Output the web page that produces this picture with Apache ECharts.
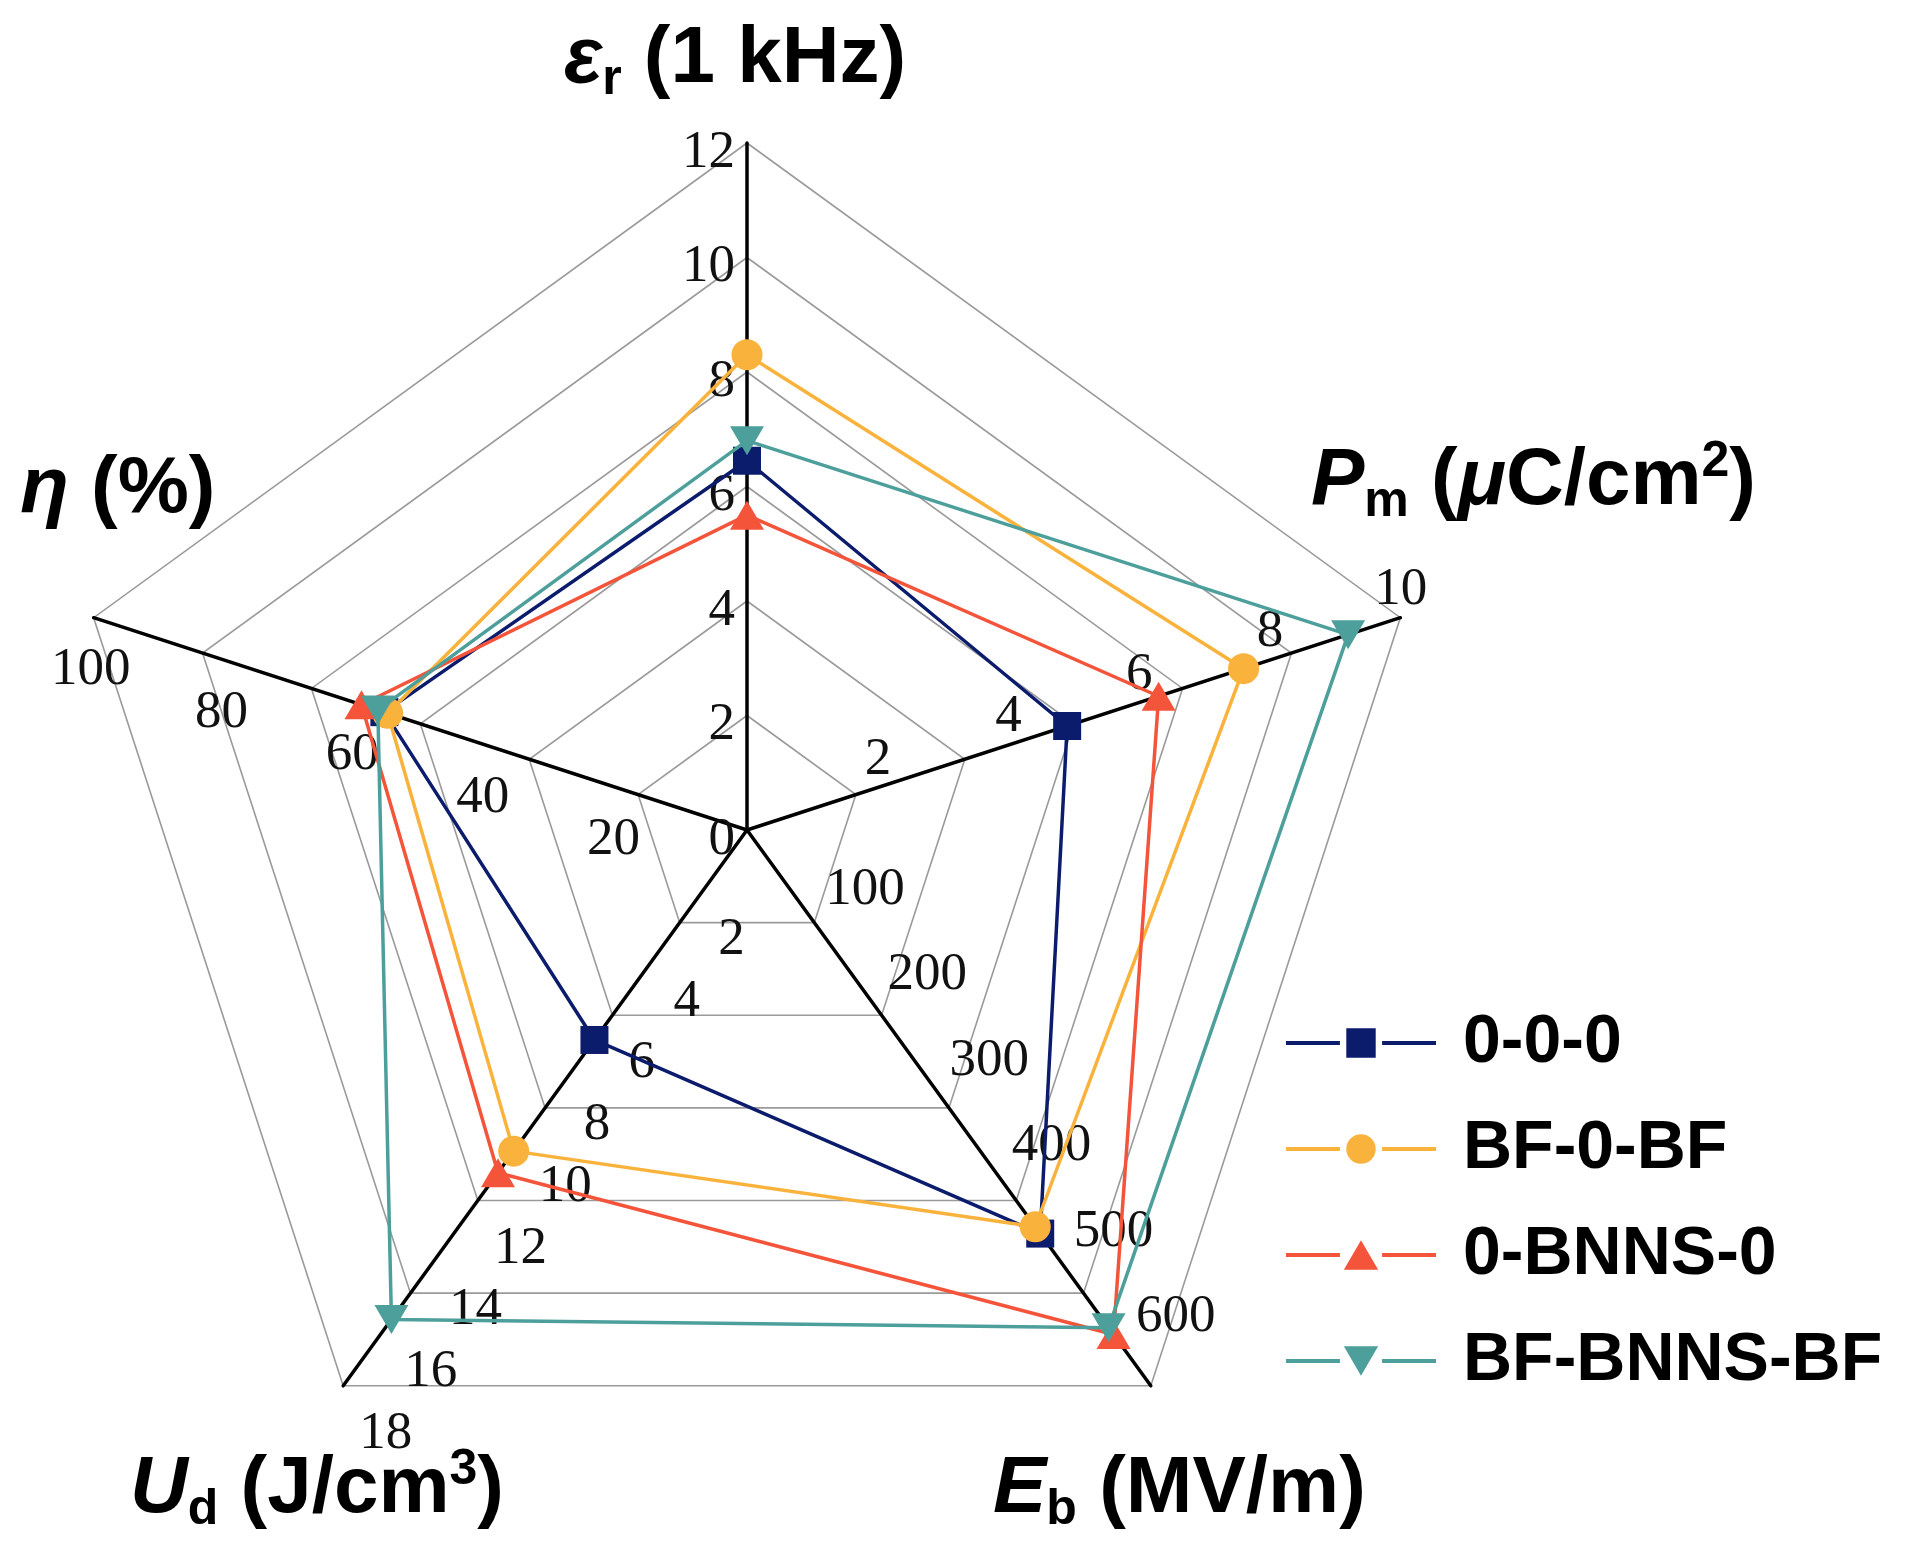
<!DOCTYPE html>
<html>
<head>
<meta charset="utf-8">
<script src="https://cdn.jsdelivr.net/npm/echarts@6/dist/echarts.min.js"></script>
<style>
  html, body { margin: 0; padding: 0; background: #fff; }
  #main { width: 1907px; height: 1555px; }
</style>
</head>
<body>
<div id="main"></div>
<script>
// axes go counter-clockwise from the top: er, eta, Ud, Eb, Pm
var axisKeys = ['er', 'eta', 'Ud', 'Eb', 'Pm'];
var axisMax = [12, 100, 18, 650, 10];

// tick labels drawn on each axis
var erTicks = [0, 2, 4, 6, 8, 10, 12];
var etaTicks = [20, 40, 60, 80, 100];
var udTicks = [2, 4, 6, 8, 10, 12, 14, 16, 18];
var ebTicks = [100, 200, 300, 400, 500, 600];
var pmTicks = [2, 4, 6, 8, 10];

// series values, in axis order
var seriesNames = ['0-0-0', 'BF-0-BF', '0-BNNS-0', 'BF-BNNS-BF'];
var s000 = [6.45, 55.5, 6.8, 472, 4.9];
var sBF0BF = [8.3, 55, 10.4, 464, 7.6];
var s0BNNS0 = [5.5, 59, 11.1, 590, 6.3];
var sBFBNNSBF = [6.8, 56.5, 15.85, 582, 9.2];
var seriesValues = [s000, sBF0BF, s0BNNS0, sBFBNNSBF];

var colors = ['#0c1c6d', '#f9b23b', '#f4543a', '#4d9f9c'];
var symbols = ['rect', 'circle', 'triangle', 'path://M0,0 L10,0 L5,10 Z'];
var symbolSizes = [28, 31, [34, 29], [34, 29]];
var legendIcons = [
    'path://M0,13 H55 V17 H0 Z M98,13 H153 V17 H98 Z M61.5,0 H91.5 V30 H61.5 Z',
    'path://M0,13 H55 V17 H0 Z M98,13 H153 V17 H98 Z M61.5,15 A15,15 0 1 0 91.5,15 A15,15 0 1 0 61.5,15 Z',
    'path://M0,13 H55 V17 H0 Z M98,13 H153 V17 H98 Z M59,30 L76.5,0 L94,30 Z',
    'path://M0,13 H55 V17 H0 Z M98,13 H153 V17 H98 Z M59,0 L94,0 L76.5,30 Z'
];

var CENTER = [747, 830];
var R = 687;

var labelFont = {
    show: true,
    color: '#111',
    fontFamily: 'Liberation Serif',
    fontSize: 53
};

// a radar that only carries the tick labels of one axis
function labelRadar(axisIdx, ticks, radius, extra) {
    return {
        center: CENTER,
        radius: radius,
        startAngle: 90,
        shape: 'polygon',
        splitNumber: ticks.length,
        axisName: { show: false },
        axisLine: { show: false },
        splitLine: { show: false },
        splitArea: { show: false },
        axisTick: { show: false },
        axisLabel: { show: false },
        indicator: axisKeys.map(function (k, i) {
            return {
                name: k,
                min: 0,
                max: i === axisIdx ? ticks[ticks.length - 1] : 1,
                axisLabel: i === axisIdx
                    ? Object.assign({}, labelFont, { showMinLabel: false }, extra)
                    : { show: false }
            };
        })
    };
}

var mainRadar = {
    center: CENTER,
    radius: R,
    startAngle: 90,
    shape: 'polygon',
    splitNumber: erTicks.length - 1,
    axisName: { show: false },
    axisLine: { lineStyle: { color: '#000', width: 3.5 } },
    splitLine: { lineStyle: { color: '#9a9a9a', width: 1.6 } },
    splitArea: { show: false },
    axisTick: { show: false },
    axisLabel: { show: false },
    indicator: axisKeys.map(function (k, i) {
        var ind = { name: k, min: 0, max: axisMax[i] };
        if (i === 0) {
            ind.axisLabel = Object.assign({}, labelFont, { margin: 12, verticalAlign: 'top', lineHeight: 20 });
        }
        return ind;
    })
};

var nameRich = {
    i: { fontFamily: 'Liberation Sans', fontWeight: 'bold', fontStyle: 'italic', fontSize: 80, lineHeight: 90, fill: '#000' },
    b: { fontFamily: 'Liberation Sans', fontWeight: 'bold', fontSize: 80, lineHeight: 90, fill: '#000' },
    bi: { fontFamily: 'Liberation Sans', fontWeight: 'bold', fontStyle: 'italic', fontSize: 80, lineHeight: 90, fill: '#000' },
    sub: { fontFamily: 'Liberation Sans', fontWeight: 'bold', fontSize: 50, lineHeight: 40, verticalAlign: 'bottom', fill: '#000' },
    sup: { fontFamily: 'Liberation Sans', fontWeight: 'bold', fontSize: 50, lineHeight: 60, verticalAlign: 'top', fill: '#000' }
};

function axisTitle(text, x, y, align) {
    return {
        type: 'text',
        x: x,
        y: y,
        z: 10,
        style: {
            text: text,
            rich: nameRich,
            align: align,
            verticalAlign: 'middle'
        }
    };
}

var chartDom = document.getElementById('main');
var myChart = echarts.init(chartDom);
var option;

option = {
    animation: false,
    backgroundColor: '#fff',
    radar: [
        mainRadar,
        labelRadar(1, etaTicks, R, { align: 'center', verticalAlign: 'top', lineHeight: 14, margin: 48, padding: [0, 0, 0, 24] }),
        labelRadar(2, udTicks, R, { align: 'left', verticalAlign: 'top', margin: 20, padding: [10, 0, 0, 0] }),
        labelRadar(3, ebTicks, R * ebTicks[ebTicks.length - 1] / axisMax[3], { align: 'left', verticalAlign: 'bottom', margin: 20, lineHeight: 28 }),
        labelRadar(4, pmTicks, R, { align: 'center', verticalAlign: 'top', lineHeight: 17, margin: 38, padding: [0, 0, 0, 24] })
    ],
    legend: {
        orient: 'vertical',
        left: 1286,
        top: 1008,
        padding: 0,
        itemWidth: 150,
        itemHeight: 30,
        itemGap: 36,
        selectedMode: false,
        itemStyle: { borderWidth: 0 },
        textStyle: {
            fontFamily: 'Liberation Sans',
            fontWeight: 'bold',
            fontSize: 68,
            lineHeight: 70,
            color: '#000',
            padding: [0, 0, 0, 22]
        },
        data: seriesNames.map(function (n, i) {
            return { name: n, icon: legendIcons[i] };
        })
    },
    graphic: [
        axisTitle('{bi|ε}{sub|r}{b| (1 kHz)}', 735, 60, 'center'),
        axisTitle('{bi|P}{sub|m}{b| (}{i|μ}{b|C/cm}{sup|2}{b|)}', 1311, 482, 'left'),
        axisTitle('{bi|η}{b| (%)}', 20, 490, 'left'),
        axisTitle('{bi|U}{sub|d}{b| (J/cm}{sup|3}{b|)}', 130, 1490, 'left'),
        axisTitle('{bi|E}{sub|b}{b| (MV/m)}', 993, 1490, 'left')
    ],
    series: seriesNames.map(function (n, i) {
        return {
            name: n,
            type: 'radar',
            radarIndex: 0,
            symbol: symbols[i],
            symbolSize: symbolSizes[i],
            lineStyle: { color: colors[i], width: 3.5 },
            itemStyle: { color: colors[i], borderWidth: 0 },
            emphasis: { disabled: true },
            z: 2 + i,
            data: [{ name: n, value: seriesValues[i] }]
        };
    })
};

option && myChart.setOption(option);
</script>
</body>
</html>
